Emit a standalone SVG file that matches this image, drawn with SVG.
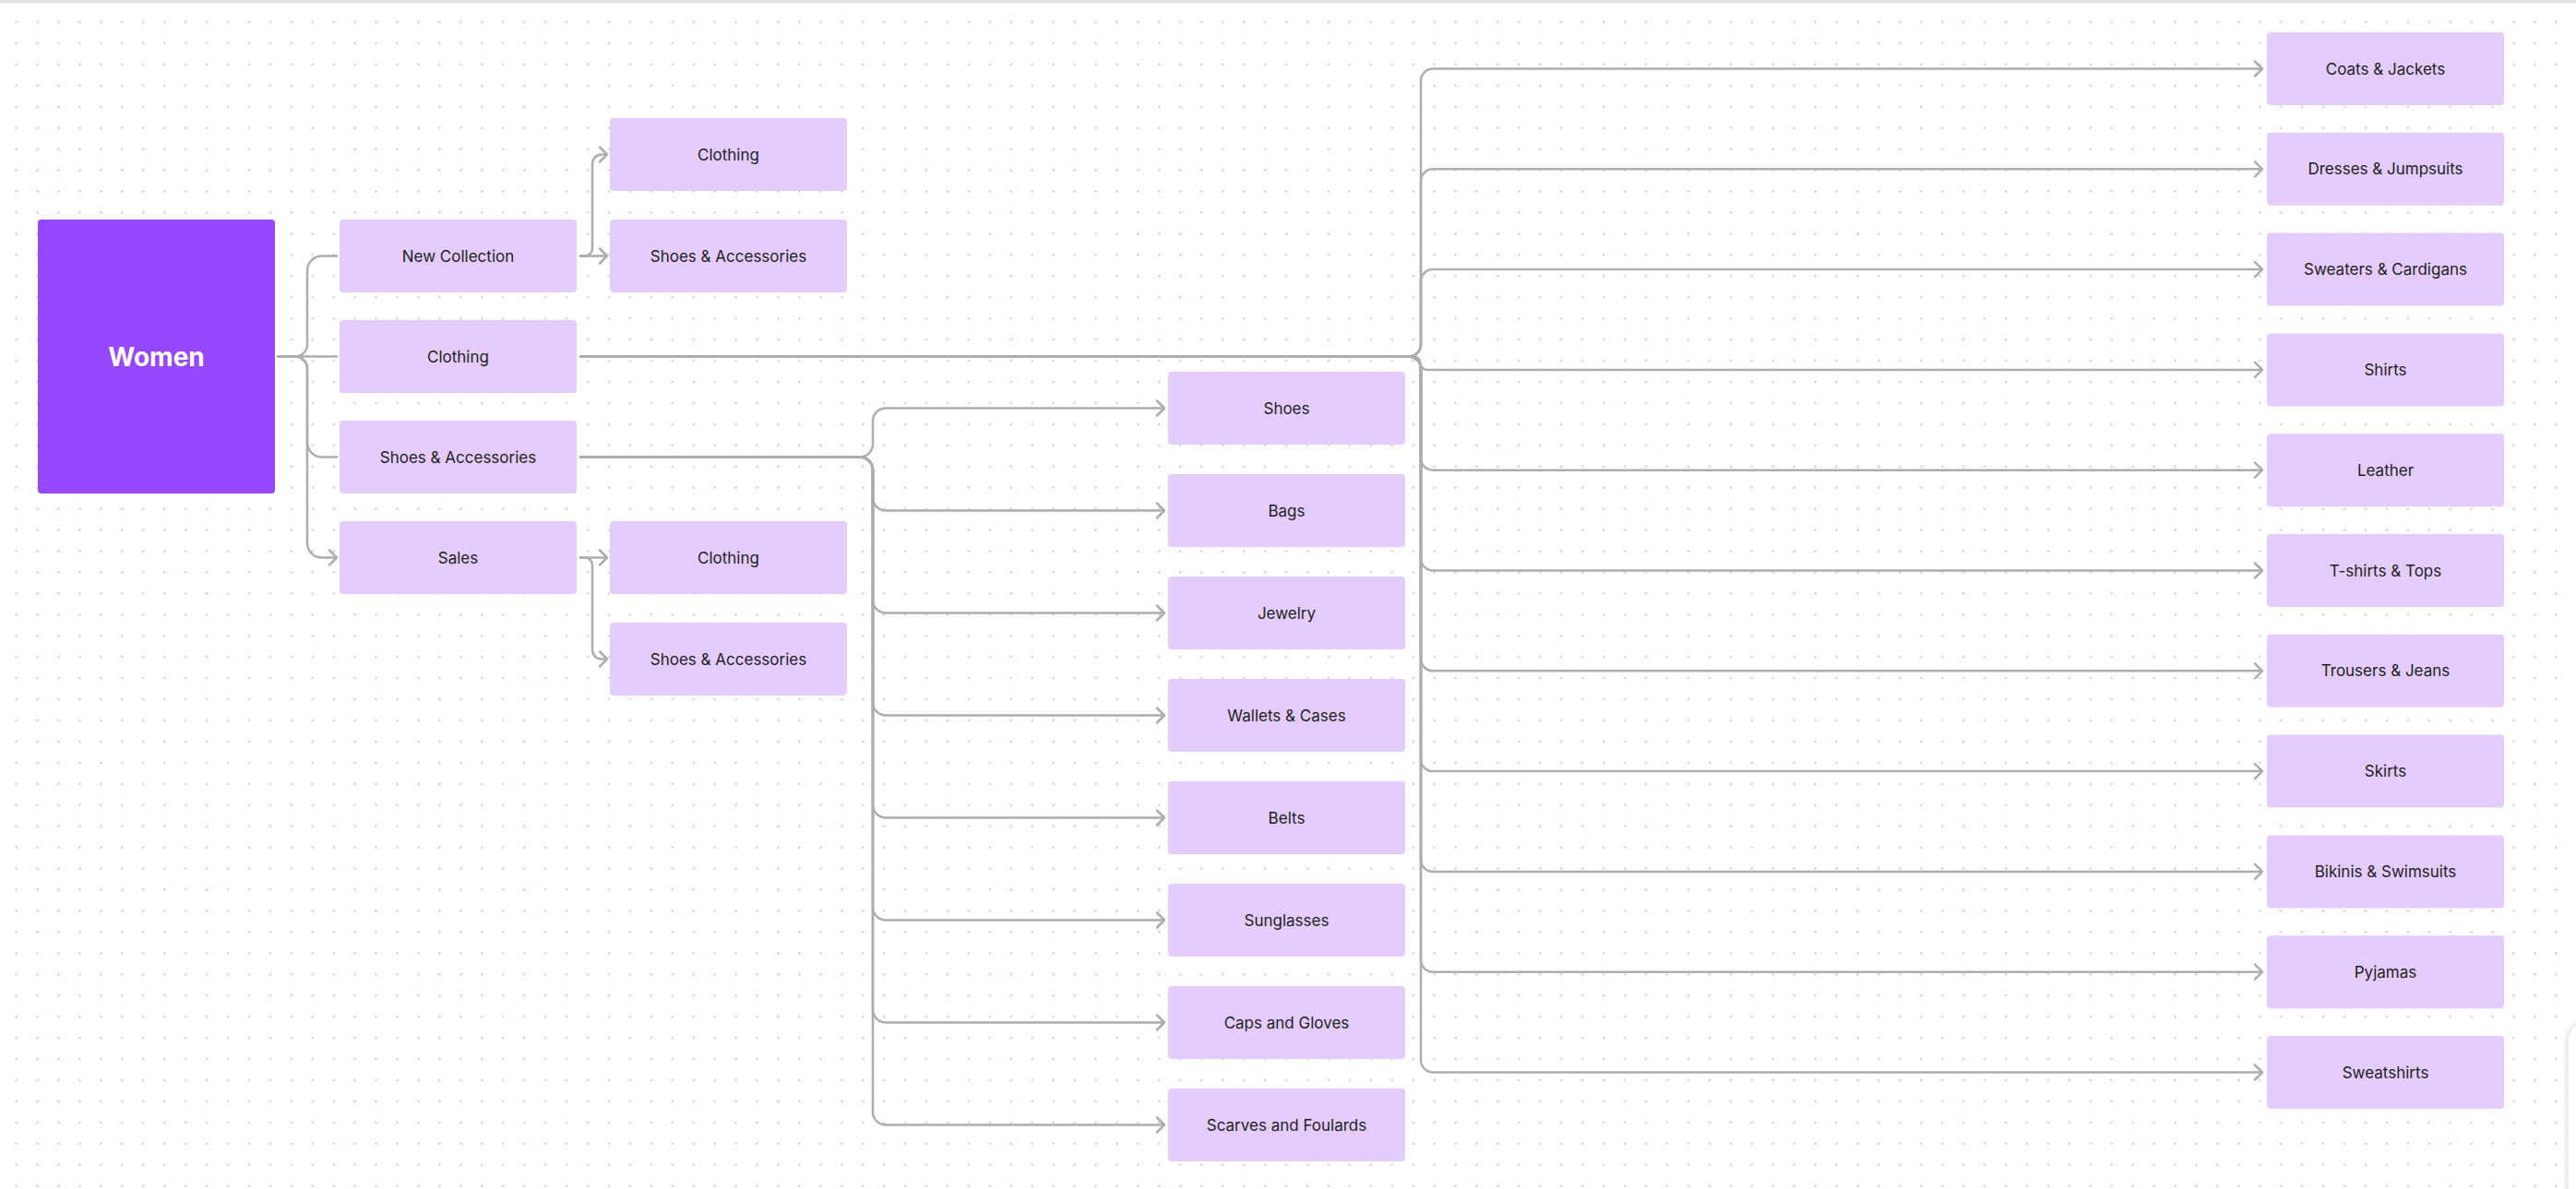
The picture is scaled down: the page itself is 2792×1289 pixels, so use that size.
<svg xmlns="http://www.w3.org/2000/svg" width="2792" height="1289" viewBox="0 0 2792 1289">
<defs>
<pattern id="dots" patternUnits="userSpaceOnUse" x="6.23" y="12.53" width="22.94" height="22.94">
<circle cx="11.47" cy="11.47" r="1.25" fill="#cdcdcd"/>
</pattern>
<marker id="arr" markerUnits="userSpaceOnUse" viewBox="-11 -11 13 22" refX="0" refY="0" markerWidth="13" markerHeight="22" orient="auto">
<path d="M-8,-8 L0,0 L-8,8" fill="none" stroke="#adadad" stroke-width="2.5" stroke-linecap="round" stroke-linejoin="round"/>
</marker>
<filter id="sh" x="-50%" y="-20%" width="200%" height="140%">
<feDropShadow dx="0" dy="0" stdDeviation="3" flood-color="#000" flood-opacity="0.18"/>
</filter>
</defs>
<style>
.n{fill:#E4CCFF}
.t{font-family:Inter,"Noto Sans","Liberation Sans",sans-serif;font-size:17px;fill:#1e1e1e;text-anchor:middle}
.w{font-family:Inter,"Noto Sans","Liberation Sans",sans-serif;font-size:28px;font-weight:700;fill:#ffffff;text-anchor:middle}
.c{fill:none;stroke:#adadad;stroke-width:2.5}
.a{marker-end:url(#arr)}
</style>
<rect width="2792" height="1289" fill="#ffffff"/>
<rect width="2792" height="1289" fill="url(#dots)"/>
<line x1="0" y1="1.5" x2="2792" y2="1.5" stroke="#e4e4e4" stroke-width="3"/>
<rect x="2783" y="1107" width="60" height="240" rx="22" fill="#ffffff" stroke="#e6e6e6" stroke-width="1" filter="url(#sh)"/>

<g id="connectors">
<!-- Women to level 1 -->
<path class="c" d="M300,386.5 H320 A13,13 0 0 0 333,373.5 V293.5 A16,16 0 0 1 349,277.5 H366"/>
<path class="c" d="M300,386.5 H366"/>
<path class="c" d="M300,386.5 H320 A13,13 0 0 1 333,399.5 V479.5 A16,16 0 0 0 349,495.5 H366"/>
<path class="c a" d="M300,386.5 H320 A13,13 0 0 1 333,399.5 V588.5 A16,16 0 0 0 349,604.5 H365"/>
<!-- New Collection -->
<path class="c a" d="M628,277.5 H634 A8,8 0 0 0 642,269.5 V177.5 A10,10 0 0 1 652,167.5 H658"/>
<path class="c a" d="M628,277.5 H658"/>
<!-- Sales -->
<path class="c a" d="M628,604.5 H658"/>
<path class="c a" d="M628,604.5 H634 A8,8 0 0 1 642,612.5 V704.5 A10,10 0 0 0 652,714.5 H658"/>
<!-- Shoes & Accessories -->
<path class="c a" d="M628,495.5 H932 A14,14 0 0 0 946,481.5 V456.5 A14,14 0 0 1 960,442.5 H1262"/>
<path class="c a" d="M628,495.5 H932 A14,14 0 0 1 946,509.5 V539.5 A14,14 0 0 0 960,553.5 H1262"/>
<path class="c a" d="M628,495.5 H932 A14,14 0 0 1 946,509.5 V650.5 A14,14 0 0 0 960,664.5 H1262"/>
<path class="c a" d="M628,495.5 H932 A14,14 0 0 1 946,509.5 V761.5 A14,14 0 0 0 960,775.5 H1262"/>
<path class="c a" d="M628,495.5 H932 A14,14 0 0 1 946,509.5 V872.5 A14,14 0 0 0 960,886.5 H1262"/>
<path class="c a" d="M628,495.5 H932 A14,14 0 0 1 946,509.5 V983.5 A14,14 0 0 0 960,997.5 H1262"/>
<path class="c a" d="M628,495.5 H932 A14,14 0 0 1 946,509.5 V1094.5 A14,14 0 0 0 960,1108.5 H1262"/>
<path class="c a" d="M628,495.5 H932 A14,14 0 0 1 946,509.5 V1205.5 A14,14 0 0 0 960,1219.5 H1262"/>
<!-- Clothing -->
<path class="c a" d="M628,386.5 H1527 A13,13 0 0 0 1540,373.5 V87.5 A13,13 0 0 1 1553,74.5 H2452"/>
<path class="c a" d="M628,386.5 H1527 A13,13 0 0 0 1540,373.5 V196.3 A13,13 0 0 1 1553,183.3 H2452"/>
<path class="c a" d="M628,386.5 H1527 A13,13 0 0 0 1540,373.5 V305.1 A13,13 0 0 1 1553,292.1 H2452"/>
<path class="c a" d="M628,386.5 H1532.3 A7.2,7.2 0 0 1 1539.5,393.7 A7.2,7.2 0 0 0 1546.7,400.9 H2452"/>
<path class="c a" d="M628,386.5 H1527 A13,13 0 0 1 1540,399.5 V496.7 A13,13 0 0 0 1553,509.7 H2452"/>
<path class="c a" d="M628,386.5 H1527 A13,13 0 0 1 1540,399.5 V605.5 A13,13 0 0 0 1553,618.5 H2452"/>
<path class="c a" d="M628,386.5 H1527 A13,13 0 0 1 1540,399.5 V714.3 A13,13 0 0 0 1553,727.3 H2452"/>
<path class="c a" d="M628,386.5 H1527 A13,13 0 0 1 1540,399.5 V823.1 A13,13 0 0 0 1553,836.1 H2452"/>
<path class="c a" d="M628,386.5 H1527 A13,13 0 0 1 1540,399.5 V931.9 A13,13 0 0 0 1553,944.9 H2452"/>
<path class="c a" d="M628,386.5 H1527 A13,13 0 0 1 1540,399.5 V1040.7 A13,13 0 0 0 1553,1053.7 H2452"/>
<path class="c a" d="M628,386.5 H1527 A13,13 0 0 1 1540,399.5 V1149.5 A13,13 0 0 0 1553,1162.5 H2452"/>
</g>

<g id="women"><rect x="41" y="238" width="257" height="297" rx="4" fill="#9747FF"/><text class="w" x="169.5" y="396.5">Women</text></g>

<g id="new-collection"><rect class="n" x="368" y="238" width="257" height="79" rx="4"/><text class="t" x="496.5" y="283.5">New Collection</text></g>
<g id="clothing"><rect class="n" x="368" y="347" width="257" height="79" rx="4"/><text class="t" x="496.5" y="392.5">Clothing</text></g>
<g id="shoes-accessories"><rect class="n" x="368" y="456" width="257" height="79" rx="4"/><text class="t" x="496.5" y="501.5">Shoes &amp; Accessories</text></g>
<g id="sales"><rect class="n" x="368" y="565" width="257" height="79" rx="4"/><text class="t" x="496.5" y="610.5">Sales</text></g>

<g id="nc-clothing"><rect class="n" x="661" y="128" width="257" height="79" rx="4"/><text class="t" x="789.5" y="173.5">Clothing</text></g>
<g id="nc-shoes-accessories"><rect class="n" x="661" y="238" width="257" height="79" rx="4"/><text class="t" x="789.5" y="283.5">Shoes &amp; Accessories</text></g>
<g id="sales-clothing"><rect class="n" x="661" y="565" width="257" height="79" rx="4"/><text class="t" x="789.5" y="610.5">Clothing</text></g>
<g id="sales-shoes-accessories"><rect class="n" x="661" y="675" width="257" height="79" rx="4"/><text class="t" x="789.5" y="720.5">Shoes &amp; Accessories</text></g>

<g id="shoes"><rect class="n" x="1266" y="403" width="257" height="79" rx="4"/><text class="t" x="1394.5" y="448.5">Shoes</text></g>
<g id="bags"><rect class="n" x="1266" y="514" width="257" height="79" rx="4"/><text class="t" x="1394.5" y="559.5">Bags</text></g>
<g id="jewelry"><rect class="n" x="1266" y="625" width="257" height="79" rx="4"/><text class="t" x="1394.5" y="670.5">Jewelry</text></g>
<g id="wallets-cases"><rect class="n" x="1266" y="736" width="257" height="79" rx="4"/><text class="t" x="1394.5" y="781.5">Wallets &amp; Cases</text></g>
<g id="belts"><rect class="n" x="1266" y="847" width="257" height="79" rx="4"/><text class="t" x="1394.5" y="892.5">Belts</text></g>
<g id="sunglasses"><rect class="n" x="1266" y="958" width="257" height="79" rx="4"/><text class="t" x="1394.5" y="1003.5">Sunglasses</text></g>
<g id="caps-gloves"><rect class="n" x="1266" y="1069" width="257" height="79" rx="4"/><text class="t" x="1394.5" y="1114.5">Caps and Gloves</text></g>
<g id="scarves-foulards"><rect class="n" x="1266" y="1180" width="257" height="79" rx="4"/><text class="t" x="1394.5" y="1225.5">Scarves and Foulards</text></g>

<g id="coats-jackets"><rect class="n" x="2457" y="35" width="257" height="79" rx="4"/><text class="t" x="2585.5" y="80.5">Coats &amp; Jackets</text></g>
<g id="dresses-jumpsuits"><rect class="n" x="2457" y="143.8" width="257" height="79" rx="4"/><text class="t" x="2585.5" y="189.3">Dresses &amp; Jumpsuits</text></g>
<g id="sweaters-cardigans"><rect class="n" x="2457" y="252.6" width="257" height="79" rx="4"/><text class="t" x="2585.5" y="298.1">Sweaters &amp; Cardigans</text></g>
<g id="shirts"><rect class="n" x="2457" y="361.4" width="257" height="79" rx="4"/><text class="t" x="2585.5" y="406.9">Shirts</text></g>
<g id="leather"><rect class="n" x="2457" y="470.2" width="257" height="79" rx="4"/><text class="t" x="2585.5" y="515.7">Leather</text></g>
<g id="tshirts-tops"><rect class="n" x="2457" y="579" width="257" height="79" rx="4"/><text class="t" x="2585.5" y="624.5">T-shirts &amp; Tops</text></g>
<g id="trousers-jeans"><rect class="n" x="2457" y="687.8" width="257" height="79" rx="4"/><text class="t" x="2585.5" y="733.3">Trousers &amp; Jeans</text></g>
<g id="skirts"><rect class="n" x="2457" y="796.6" width="257" height="79" rx="4"/><text class="t" x="2585.5" y="842.1">Skirts</text></g>
<g id="bikinis-swimsuits"><rect class="n" x="2457" y="905.4" width="257" height="79" rx="4"/><text class="t" x="2585.5" y="950.9">Bikinis &amp; Swimsuits</text></g>
<g id="pyjamas"><rect class="n" x="2457" y="1014.2" width="257" height="79" rx="4"/><text class="t" x="2585.5" y="1059.7">Pyjamas</text></g>
<g id="sweatshirts"><rect class="n" x="2457" y="1123" width="257" height="79" rx="4"/><text class="t" x="2585.5" y="1168.5">Sweatshirts</text></g>
</svg>
